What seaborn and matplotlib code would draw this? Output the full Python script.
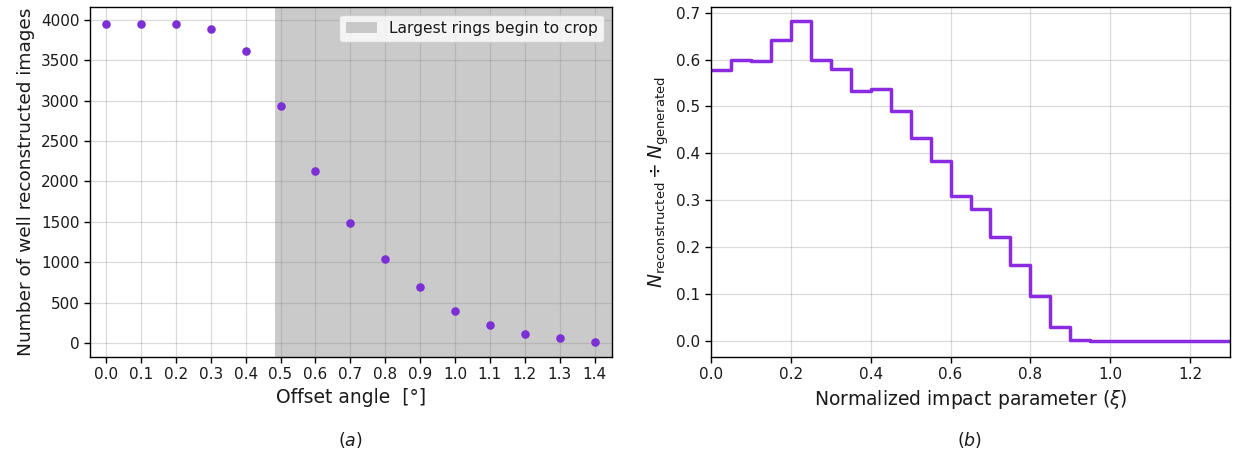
import numpy as np
import pandas as pd
import matplotlib
matplotlib.use("Agg")
import matplotlib.pyplot as plt
import seaborn as sns

# ---- data ----
offset_angle = [0.0, 0.1, 0.2, 0.3, 0.4, 0.5, 0.6, 0.7, 0.8, 0.9, 1.0, 1.1, 1.2, 1.3, 1.4]
n_reconstructed = [3945, 3945, 3945, 3890, 3610, 2930, 2130, 1485, 1040, 690, 390, 225, 110, 55, 15]
crop_start = 0.485
crop_end = 1.5

bin_edges = [0.0, 0.05, 0.10, 0.15, 0.20, 0.25, 0.30, 0.35, 0.40, 0.45, 0.50, 0.55, 0.60, 0.65,
             0.70, 0.75, 0.80, 0.85, 0.90, 0.95, 1.00, 1.05, 1.10, 1.15, 1.20, 1.25, 1.30]
ratio = [0.577, 0.598, 0.596, 0.641, 0.682, 0.598, 0.579, 0.533, 0.538, 0.490, 0.432, 0.383,
         0.310, 0.281, 0.222, 0.163, 0.096, 0.031, 0.003, 0.0, 0.0, 0.0, 0.0, 0.0, 0.0, 0.0]

sns.set_theme(style="ticks")
plt.rcParams['font.family'] = ['DejaVu Sans']
plt.rcParams['axes.grid'] = True
plt.rcParams['grid.color'] = '#808080'
plt.rcParams['grid.alpha'] = 0.28
plt.rcParams['grid.linewidth'] = 0.9
for k in ['text.color', 'axes.labelcolor', 'xtick.color', 'ytick.color']:
    plt.rcParams[k] = '#1a1a1a'

fig = plt.figure(figsize=(12.35, 4.57), dpi=100)
ax1 = fig.add_axes([90/1235, 1-357/457, 522/1235, 350/457])
ax2 = fig.add_axes([711/1235, 1-357/457, 519/1235, 350/457])

# ---- left panel ----
df1 = pd.DataFrame({"angle": offset_angle, "n": n_reconstructed})
ax1.axvspan(crop_start, crop_end, color='#bdbdbd', alpha=0.8, lw=0,
            label='Largest rings begin to crop', zorder=0)
sns.scatterplot(data=df1, x="angle", y="n", ax=ax1, color='#7b2fd4', s=38,
                edgecolor='#7b2fd4', linewidth=0, zorder=3)
ax1.set_xticks(offset_angle)
ax1.set_xticklabels([f"{v:.1f}" for v in offset_angle])
ax1.set_yticks(np.arange(0, 4001, 500))
ax1.set_xlim(-0.046, 1.45)
ax1.set_ylim(-175, 4160)
ax1.set_xlabel("Offset angle  [°]", fontsize=13.5)
ax1.set_ylabel("Number of well reconstructed images", fontsize=13.3)
ax1.tick_params(labelsize=11)
ax1.legend(loc='upper right', fontsize=11.2, frameon=True, fancybox=True)
ax1.set_axisbelow(True)

# ---- right panel ----
centers = [(bin_edges[i] + bin_edges[i + 1]) / 2 for i in range(len(ratio))]
df2 = pd.DataFrame({"xi": centers, "w": ratio})
sns.histplot(data=df2, x="xi", weights="w", bins=bin_edges, element="step", fill=False,
             color='#8a2be2', linewidth=2.5, ax=ax2)
ax2.set_xlim(0, 1.3)
ax2.set_ylim(-0.034, 0.712)
ax2.set_xticks([0.0, 0.2, 0.4, 0.6, 0.8, 1.0, 1.2])
ax2.set_yticks(np.arange(0, 0.71, 0.1))
ax2.yaxis.set_major_formatter(matplotlib.ticker.FormatStrFormatter('%.1f'))
ax2.xaxis.set_major_formatter(matplotlib.ticker.FormatStrFormatter('%.1f'))
ax2.set_xlabel(r"Normalized impact parameter ($\xi$)", fontsize=13.5)
ax2.set_ylabel(r"$N_{\rm reconstructed} \div N_{\rm generated}$", fontsize=13.5)
ax2.tick_params(labelsize=11)
ax2.set_axisbelow(True)

for ax in (ax1, ax2):
    for s in ax.spines.values():
        s.set_color('black')
        s.set_linewidth(1.0)
    ax.tick_params(color='black', length=4, width=1)

fig.text(350/1235, 1-440/457, r"$(a)$", ha='center', va='center', fontsize=12.5)
fig.text(970/1235, 1-440/457, r"$(b)$", ha='center', va='center', fontsize=12.5)

fig.savefig("out.png", dpi=100)
